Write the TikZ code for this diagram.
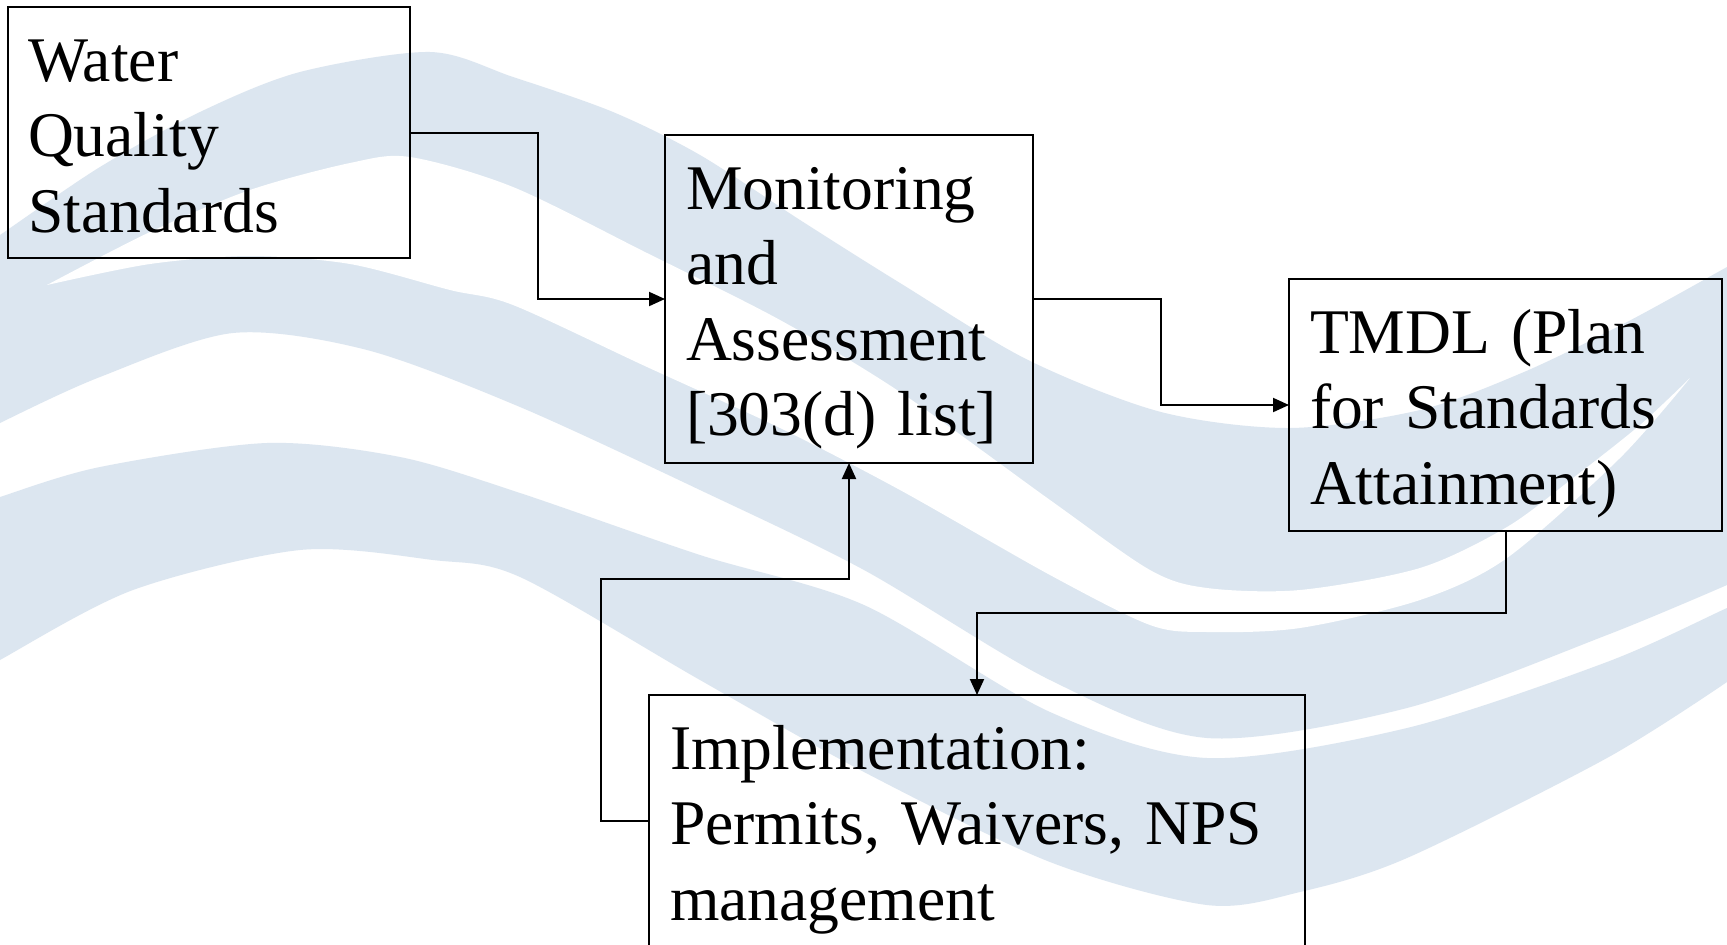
\documentclass[tikz,border=0pt]{standalone}
\usepackage{fontspec}
\setmainfont{Liberation Serif}
\usetikzlibrary{arrows.meta,calc}
\definecolor{wave}{RGB}{220,230,240}
\begin{document}
\begin{tikzpicture}[x=1pt,y=-1pt,
  box/.style={draw=black, line width=2pt, inner sep=0pt, outer sep=0pt},
  lbl/.style={inner sep=0pt, outer sep=0pt, anchor=base west, text width=700pt, align=left, font=\fontsize{63.6}{75.5}\selectfont},
  conn/.style={draw=black, line width=2pt, -{Triangle[length=16pt,width=14pt]}}]
\useasboundingbox (0,0) rectangle (1727,945);
\clip (0,0) rectangle (1727,945);
\fill[white] (0,0) rectangle (1727,945);
% background waves
\fill[wave] plot[smooth] coordinates {(-40,262) (0,235) (100,167) (200,112) (300,72) (430,52) (513,77) (613,112) (700,155) (800,220) (900,283) (1028,360) (1161,412) (1290,428) (1420,410) (1524,372) (1627,322) (1727,267) (1767,245)}
  -- (1767,565)
  -- plot[smooth] coordinates {(1727,585) (1607,635) (1407,708) (1207,738) (1050,680) (864,570) (700,490) (520,407) (367,350) (233,333) (100,377) (0,423) (-40,445)}
  -- cycle;
\fill[white] plot[smooth] coordinates {(47,285) (150,232) (250,190) (350,163) (410,157) (513,187) (647,253) (780,320) (900,392) (1050,500) (1150,570) (1207,588) (1300,590) (1420,568) (1507,527) (1573,478) (1640,425) (1690,378)}
  -- plot[smooth] coordinates {(1690,378) (1620,458) (1507,558) (1420,600) (1300,628) (1207,632) (1150,625) (1050,575) (900,490) (780,428) (647,367) (513,305) (450,290) (350,264) (250,256) (150,264) (47,285)}
  -- cycle;
\fill[wave] plot[smooth] coordinates {(-40,512) (0,497) (100,467) (267,443) (400,457) (520,493) (700,555) (864,605) (1050,712) (1207,758) (1407,728) (1607,662) (1727,608) (1767,590)}
  -- (1767,655)
  -- plot[smooth] coordinates {(1727,682) (1607,758) (1407,858) (1300,892) (1207,905) (1050,862) (864,772) (700,680) (520,577) (433,560) (300,550) (133,590) (0,660) (-40,685)}
  -- cycle;
% boxes
\node[box, minimum width=402pt, minimum height=251pt] (wqs) at (209,132.5) {};
\node[box, minimum width=368pt, minimum height=328pt] (mon) at (849,299) {};
\node[box, minimum width=433pt, minimum height=252pt] (tmdl) at (1505.5,405) {};
\node[box, minimum width=656pt, minimum height=252pt] (impl) at (977,821) {};
% texts
\node[lbl] (wqsT) at (28,81) {Water\\Quality\\Standards};
\node[lbl] (monT) at (686,209) {Monitoring\\and\\Assessment\\{[}303(d) list{]}};
\node[lbl] (tmdlT) at (1310,353) {TMDL (Plan\\for Standards\\Attainment)};
\node[lbl] (implT) at (670,769) {Implementation:\\Permits, Waivers, NPS\\management};
% connectors
\draw[conn] (wqs.east) -| ($(wqs.east)!0.5!(mon.west)$) |- (mon.west);
\draw[conn] (mon.east) -| ($(mon.east)!0.5!(tmdl.west)$) |- (tmdl.west);
\draw[conn] (tmdl.south) |- ($(tmdl.south)!0.5!(impl.north)$) -| (impl.north);
\draw[conn] (impl.west) -- ++(-48,0) coordinate (c1) |- ($(mon.south)!0.5!(mon.south|-impl.north)$) -- (mon.south);
\end{tikzpicture}
\end{document}
